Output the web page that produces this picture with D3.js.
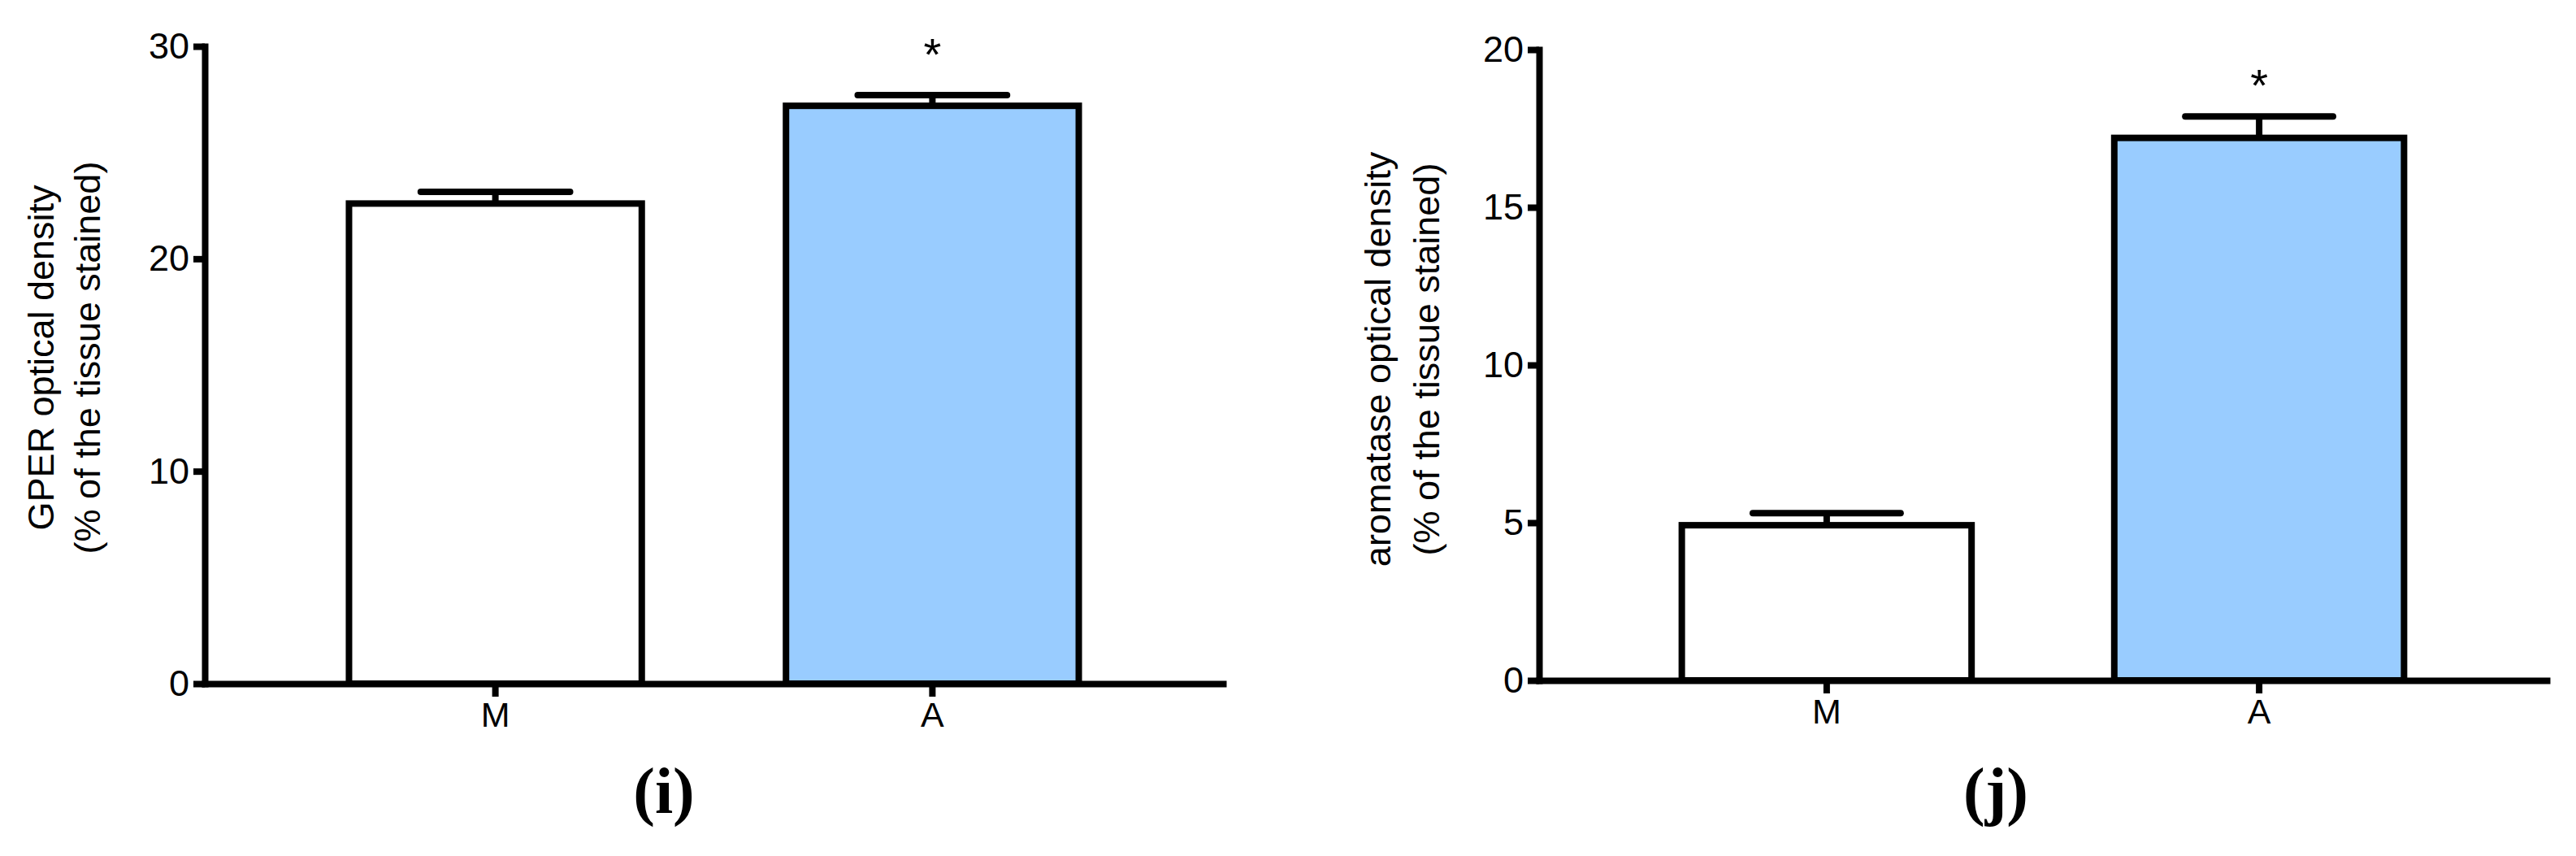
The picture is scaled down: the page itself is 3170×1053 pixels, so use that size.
<!DOCTYPE html>
<html lang="en">
<head>
    <meta charset="UTF-8">
    <title>GPER and aromatase optical density</title>
    <style>
        body {
            margin: 0;
            background-color: #ffffff;
        }
        svg text {
            font-family: "Liberation Sans", Arial, sans-serif;
            fill: #000;
        }
        .panel-label {
            font-family: "Liberation Serif", "Times New Roman", serif !important;
            font-weight: bold;
        }
    </style>
</head>
<body>
    <div id="chart"></div>

    <script src="https://d3js.org/d3.v7.min.js"></script>

    <script>
        // Groups and bar colours
        const categories = ['M', 'A'];
        const barColors = ['#ffffff', '#99ccff'];
        const significant = [false, true];

        // Panel (i): GPER
        const gperMeans = [22.6, 27.2];
        const gperSem = [0.55, 0.5];
        const gperTicks = [0, 10, 20, 30];

        // Panel (j): aromatase
        const aromMeans = [4.92, 17.2];
        const aromSem = [0.38, 0.68];
        const aromTicks = [0, 5, 10, 15, 20];

        const width = 3170;
        const height = 1053;

        const svg = d3.select('#chart')
            .append('svg')
            .attr('width', width)
            .attr('height', height);

        function drawPanel(p) {
            const g = svg.append('g');

            const y = d3.scaleLinear()
                .domain([0, d3.max(p.ticks)])
                .range([p.y0, p.y1]);

            const x = d3.scaleBand()
                .domain(categories)
                .range([p.x0, p.x1])
                .paddingInner(0.33)
                .paddingOuter(0.33);

            const data = categories.map((c, i) => ({
                cat: c, mean: p.means[i], sem: p.sem[i],
                color: barColors[i], star: significant[i]
            }));

            // barras
            g.selectAll('.bar')
                .data(data)
                .enter().append('rect')
                .attr('class', 'bar')
                .attr('x', d => x(d.cat))
                .attr('y', d => y(d.mean))
                .attr('width', x.bandwidth())
                .attr('height', d => y(0) - y(d.mean))
                .attr('fill', d => d.color)
                .attr('stroke', '#000')
                .attr('stroke-width', 8);

            // error bars (upper half only)
            const capW = x.bandwidth() * 0.51;
            g.selectAll('.stem')
                .data(data)
                .enter().append('line')
                .attr('x1', d => x(d.cat) + x.bandwidth() / 2)
                .attr('x2', d => x(d.cat) + x.bandwidth() / 2)
                .attr('y1', d => y(d.mean))
                .attr('y2', d => y(d.mean + d.sem))
                .attr('stroke', '#000')
                .attr('stroke-width', 8);

            g.selectAll('.cap')
                .data(data)
                .enter().append('line')
                .attr('x1', d => x(d.cat) + x.bandwidth() / 2 - capW / 2)
                .attr('x2', d => x(d.cat) + x.bandwidth() / 2 + capW / 2)
                .attr('y1', d => y(d.mean + d.sem))
                .attr('y2', d => y(d.mean + d.sem))
                .attr('stroke', '#000')
                .attr('stroke-width', 8)
                .attr('stroke-linecap', 'round');

            g.selectAll('.star')
                .data(data.filter(d => d.star))
                .enter().append('text')
                .attr('x', d => x(d.cat) + x.bandwidth() / 2)
                .attr('y', d => y(d.mean + d.sem) - p.starOffset)
                .attr('text-anchor', 'middle')
                .attr('font-size', 56)
                .text('*');

            // ejes
            const yAxis = g.append('g')
                .attr('transform', `translate(${p.x0},0)`)
                .call(d3.axisLeft(y).tickValues(p.ticks).tickSize(14).tickSizeOuter(0).tickPadding(5));

            const xAxis = g.append('g')
                .attr('transform', `translate(0,${p.y0})`)
                .call(d3.axisBottom(x).tickSize(16).tickSizeOuter(0).tickPadding(6));

            [yAxis, xAxis].forEach(a => {
                a.select('.domain')
                    .attr('stroke', '#000')
                    .attr('stroke-width', 8)
                    .attr('stroke-linecap', 'square');
                a.selectAll('.tick line')
                    .attr('stroke', '#000')
                    .attr('stroke-width', 8);
                a.selectAll('.tick text')
                    .attr('fill', '#000')
                    .attr('font-family', '"Liberation Sans", Arial, sans-serif')
                    .attr('font-size', 45);
            });
            xAxis.selectAll('.tick text').attr('font-size', 43);

            // etiqueta del eje Y en dos líneas
            p.yLabel.forEach((line, i) => {
                g.append('text')
                    .attr('transform', `translate(${p.labelX[i]},${p.labelY}) rotate(-90)`)
                    .attr('text-anchor', 'middle')
                    .attr('font-size', 45)
                    .text(line);
            });

            g.append('text')
                .attr('class', 'panel-label')
                .attr('x', p.tagX)
                .attr('y', 1000)
                .attr('text-anchor', 'middle')
                .attr('font-size', 80)
                .text(p.tag);
        }

        drawPanel({
            means: gperMeans, sem: gperSem, ticks: gperTicks,
            x0: 252, x1: 1505, y0: 841, y1: 57,
            yLabel: ['GPER optical density', '(% of the tissue stained)'],
            labelX: [66, 123], labelY: 440,
            starOffset: 31, tag: '(i)', tagX: 817
        });

        drawPanel({
            means: aromMeans, sem: aromSem, ticks: aromTicks,
            x0: 1894, x1: 3134, y0: 837, y1: 61,
            yLabel: ['aromatase optical density', '(% of the tissue stained)'],
            labelX: [1711, 1771], labelY: 442,
            starOffset: 19, tag: '(j)', tagX: 2456
        });
    </script>
</body>
</html>
